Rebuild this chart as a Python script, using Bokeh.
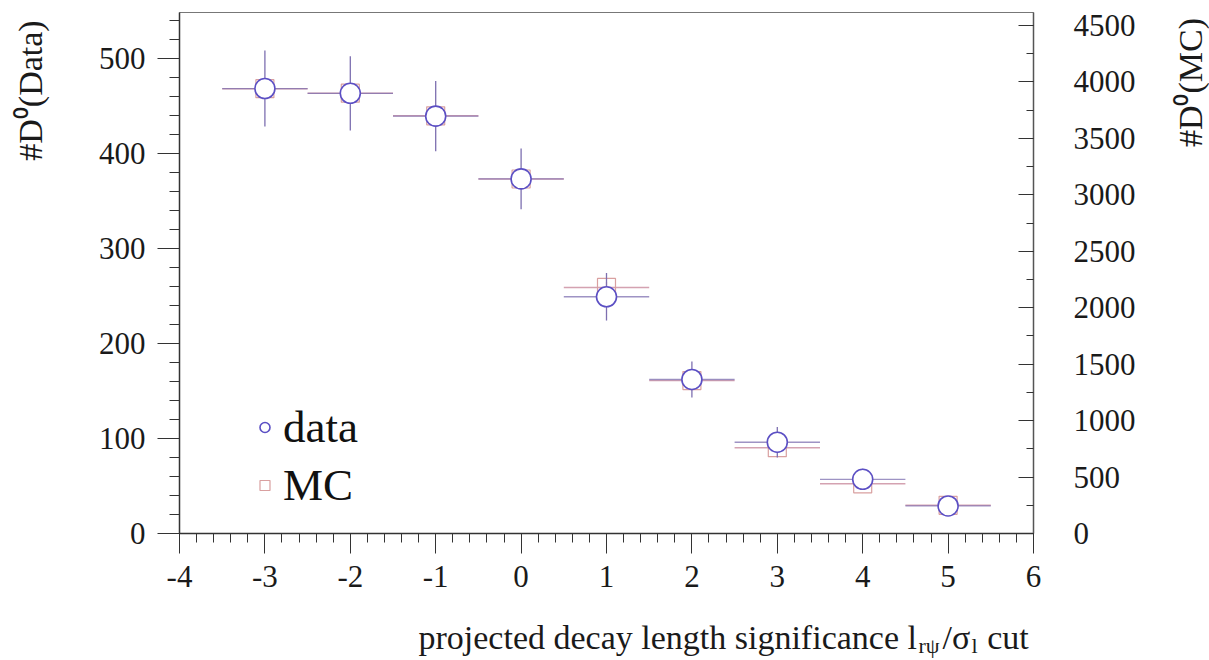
import math
from bokeh.plotting import figure
from bokeh.models import (Range1d, LinearAxis, SingleIntervalTicker, ColumnDataSource,
                          Legend, LegendItem, Label)
from bokeh.embed import file_html
from bokeh.resources import INLINE

# ---- data ----
cuts = [-3, -2, -1, 0, 1, 2, 3, 4, 5]
data_counts = [468, 463, 439, 373, 249, 162, 96, 57, 29]
data_errors = [40, 39, 37, 32, 25, 19, 16, 11, 8]
mc_counts = [3940, 3900, 3700, 3140, 2180, 1355, 760, 440, 250]
mc_errors = [65, 65, 60, 55, 50, 40, 30, 25, 18]
bin_half = 0.5
x_tick_values = [-4, -3, -2, -1, 0, 1, 2, 3, 4, 5, 6]

NB = "\u00a0"
x_title_main = "projected decay length significance l" + NB * 3 + "/\u03c3" + NB * 2 + "cut"
x_title_sub1 = "r\u03c8"
x_title_sub2 = "l"
left_label = "#D\u2070(Data)"
right_label = "#D\u2070(MC)"

FONT = "Liberation Serif"
DATA_COL = "#5b4fc4"
DATA_BAR = "#7d6fb0"
MC_COL = "#d9a0a0"
MC_BAR = "#cf98a8"

X0, X1, Y0, Y1 = -4, 6, 0, 548
FL, FR, FT, FB = 179, 1033, 12, 533  # frame edges in canvas px

p = figure(width=1209, height=660, x_range=Range1d(X0, X1), y_range=Range1d(Y0, Y1),
           output_backend="svg", toolbar_location=None,
           min_border_left=FL, min_border_right=1209 - FR,
           min_border_top=FT, min_border_bottom=660 - FB)
p.extra_y_ranges = {"mc": Range1d(0, 4615)}
p.grid.visible = False
p.outline_line_color = "#777777"
p.outline_line_width = 1
p.background_fill_color = "white"
p.border_fill_color = "white"

def style_axis(ax):
    ax.axis_line_color = "#333333"
    ax.axis_line_width = 1.5
    ax.major_tick_line_color = "#333333"
    ax.minor_tick_line_color = "#333333"
    ax.major_tick_line_width = 1
    ax.minor_tick_line_width = 1
    ax.major_label_text_font = FONT
    ax.major_label_text_font_size = "31px"
    ax.major_label_text_color = "#1a1a1a"

xa = p.xaxis[0]
xa.ticker = SingleIntervalTicker(interval=1, num_minor_ticks=5)
style_axis(xa)
xa.major_tick_out = 20
xa.major_tick_in = 0
xa.minor_tick_out = 9
xa.minor_tick_in = 0
xa.major_label_standoff = 12
xa.major_label_overrides = {v: str(v) for v in x_tick_values}

ya = p.yaxis[0]
ya.ticker = SingleIntervalTicker(interval=100, num_minor_ticks=5)
style_axis(ya)
ya.major_tick_out = 22
ya.major_tick_in = 0
ya.minor_tick_out = 10
ya.minor_tick_in = 0
ya.major_label_standoff = 12

ra = LinearAxis(y_range_name="mc", ticker=SingleIntervalTicker(interval=500, num_minor_ticks=2))
style_axis(ra)
ra.axis_line_color = "#555555"
ra.major_tick_in = 15
ra.major_tick_out = 0
ra.minor_tick_in = 7
ra.minor_tick_out = 0
ra.major_label_standoff = 40
p.add_layout(ra, "right")

src = ColumnDataSource(dict(
    x=cuts, d=data_counts, de=data_errors, m=mc_counts, me=mc_errors,
    xl=[c - bin_half for c in cuts], xr=[c + bin_half for c in cuts],
    dlo=[v - e for v, e in zip(data_counts, data_errors)],
    dhi=[v + e for v, e in zip(data_counts, data_errors)],
    mlo=[v - e for v, e in zip(mc_counts, mc_errors)],
    mhi=[v + e for v, e in zip(mc_counts, mc_errors)],
))

# MC error bars and markers (right scale)
p.segment(x0="xl", x1="xr", y0="m", y1="m", source=src, y_range_name="mc",
          line_color=MC_BAR, line_width=1.5, line_alpha=0.9)
p.segment(x0="x", x1="x", y0="mlo", y1="mhi", source=src, y_range_name="mc",
          line_color=MC_BAR, line_width=1.2)
mc_r = p.scatter(x="x", y="m", source=src, y_range_name="mc", marker="square", size=18,
                 line_color=MC_COL, line_width=1.2, fill_color=None)

# data error bars and markers (left scale)
p.segment(x0="xl", x1="xr", y0="d", y1="d", source=src,
          line_color=DATA_BAR, line_width=1.3, line_alpha=0.75)
p.segment(x0="x", x1="x", y0="dlo", y1="dhi", source=src,
          line_color=DATA_BAR, line_width=1.3)
data_r = p.scatter(x="x", y="d", source=src, marker="circle", size=20,
                   line_color=DATA_COL, line_width=1.6, fill_color="white")

legend = Legend(items=[LegendItem(label="data", renderers=[data_r]),
                       LegendItem(label="MC", renderers=[mc_r])],
                location=(73, 22), orientation="vertical",
                label_text_font=FONT, label_text_font_size="45px", label_text_color="#111111",
                glyph_width=25, glyph_height=50, label_height=50, spacing=6,
                label_standoff=6, padding=10, margin=0,
                border_line_color=None, background_fill_alpha=0)
p.add_layout(legend, "center")

# Texts outside the frame: labels held in side panels, positioned in canvas pixels
def lab(text, X, Y, size, side, angle=0.0, align="left", baseline="alphabetic"):
    p.add_layout(Label(x=X, y=Y, x_units="canvas", y_units="canvas", text=text,
                       text_font=FONT, text_font_size=size, text_color="#1a1a1a",
                       angle=angle, text_align=align, text_baseline=baseline), side)

lab(left_label, 30, 90, "34px", "left", angle=math.pi / 2, align="center", baseline="middle")
lab(right_label, 1190, 82, "34px", "right", angle=math.pi / 2, align="center", baseline="middle")
lab(x_title_main, 418, 637, "34px", "below")
lab(x_title_sub1, 918, 645, "22px", "left")
lab(x_title_sub2, 971, 645, "22px", "right")

open("out.html", "w").write(file_html(p, INLINE))
